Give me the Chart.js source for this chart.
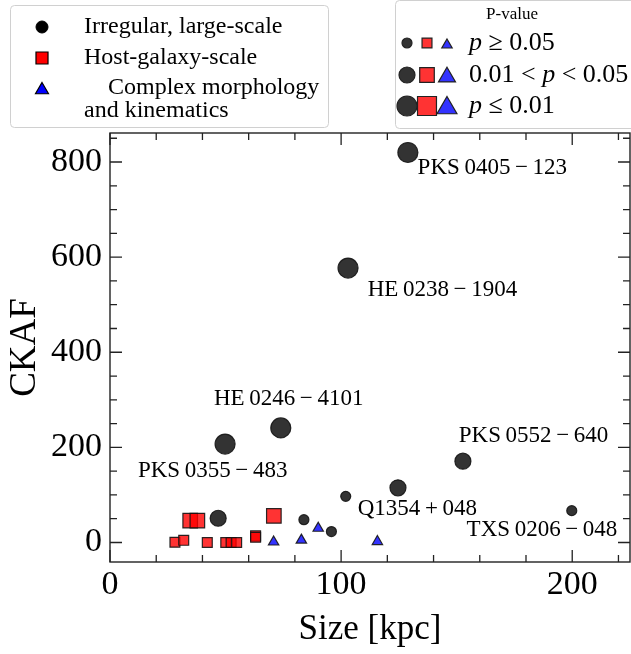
<!DOCTYPE html>
<html>
<head>
<meta charset="utf-8">
<script src="https://cdn.jsdelivr.net/npm/chart.js@4.4.0/dist/chart.umd.min.js"></script>
<style>
  html, body { margin: 0; padding: 0; background: #fff; }
  canvas { display: block; }
</style>
</head>
<body>
<canvas id="ckaf" width="631" height="654" style="width:631px;height:654px"></canvas>
<script>
// significance classes: 'strong' p <= 0.01, 'moderate' 0.01 < p < 0.05, 'weak' p >= 0.05
const irregularSize = [128.9, 103.0, 73.9, 49.8, 152.7, 124.6, 46.8, 199.8, 102.0, 83.9, 95.8];
const irregularCkaf = [820, 577, 241, 207, 171, 115, 51, 67, 97, 48, 23];
const irregularSig  = ['strong', 'strong', 'strong', 'strong', 'moderate', 'moderate', 'moderate',
                       'weak', 'weak', 'weak', 'weak'];

const hostSize = [34.7, 37.8, 70.9, 28.1, 31.9, 42.1, 50.1, 52.4, 54.8, 63.0, 63.0];
const hostCkaf = [46, 46, 56, 0.5, 4.6, 0, 0, 0, 0, 14, 11];
const hostSig  = ['moderate', 'moderate', 'moderate', 'weak', 'weak', 'weak', 'weak',
                  'weak', 'weak', 'weak', 'weak'];

const complexSize = [70.8, 82.8, 90.1, 115.7];
const complexCkaf = [1, 5, 30, 2];
const complexSig  = ['weak', 'weak', 'weak', 'weak'];

const sourceNames = ['PKS\u20090405\u2009\u2212\u2009123', 'HE\u20090238\u2009\u2212\u20091904',
                     'HE\u20090246\u2009\u2212\u20094101', 'PKS\u20090355\u2009\u2212\u2009483',
                     'PKS\u20090552\u2009\u2212\u2009640', 'Q1354\u2009+\u2009048',
                     'TXS\u20090206\u2009\u2212\u2009048'];

const xTickValues = [0, 100, 200];
const yTickValues = [0, 200, 400, 600, 800];
const xMinorValues = [20, 40, 60, 80, 120, 140, 160, 180, 220];
const yMinorValues = [50, 100, 150, 250, 300, 350, 450, 500, 550, 650, 700, 750, 850];

const SERIF = '"Liberation Serif", "Times New Roman", serif';

// marker radius per shape and significance class
const radii = {
  circle:   { weak: 5,   moderate: 8,    strong: 10 },
  rect:     { weak: 7,   moderate: 10.3, strong: 13.4 },
  triangle: { weak: 6,   moderate: 9.8,  strong: 11.5 }
};

const colors = {
  circle:   'rgba(0,0,0,0.8)',
  rect:     'rgba(255,0,0,0.8)',
  triangle: 'rgba(0,0,255,0.8)'
};

const toPoints = (xs, ys) => xs.map((x, i) => ({ x: x, y: ys[i] }));

// text label anchors in data units (left edge, vertical middle)
const labelAnchors = [
  [133.1, 787], [111.5, 530], [45.0, 302], [12.1, 151],
  [150.9, 225], [107.2, 70], [154.3, 26]
];

function drawShape(ctx, shape, x, y, r, fill, stroke, lw) {
  ctx.save();
  ctx.beginPath();
  if (shape === 'circle') {
    ctx.arc(x, y, r, 0, Math.PI * 2);
  } else if (shape === 'rect') {
    const s = r * Math.SQRT1_2;
    ctx.rect(x - s, y - s, 2 * s, 2 * s);
  } else {
    let a = 0;
    ctx.moveTo(x + Math.sin(a) * r, y - Math.cos(a) * r);
    a += 2 * Math.PI / 3;
    ctx.lineTo(x + Math.sin(a) * r, y - Math.cos(a) * r);
    a += 2 * Math.PI / 3;
    ctx.lineTo(x + Math.sin(a) * r, y - Math.cos(a) * r);
    ctx.closePath();
  }
  ctx.fillStyle = fill;
  ctx.fill();
  ctx.lineWidth = lw;
  ctx.strokeStyle = stroke;
  ctx.stroke();
  ctx.restore();
}

function roundBox(ctx, x, y, w, h, rad) {
  ctx.beginPath();
  ctx.moveTo(x + rad, y);
  ctx.lineTo(x + w - rad, y);
  ctx.arcTo(x + w, y, x + w, y + rad, rad);
  ctx.lineTo(x + w, y + h - rad);
  ctx.arcTo(x + w, y + h, x + w - rad, y + h, rad);
  ctx.lineTo(x + rad, y + h);
  ctx.arcTo(x, y + h, x, y + h - rad, rad);
  ctx.lineTo(x, y + rad);
  ctx.arcTo(x, y, x + rad, y, rad);
  ctx.closePath();
}

// draws runs of [text, italic] left to right
function drawRuns(ctx, runs, x, y, size) {
  ctx.textBaseline = 'middle';
  ctx.textAlign = 'left';
  runs.forEach(([txt, italic]) => {
    ctx.font = (italic ? 'italic ' : '') + size + 'px ' + SERIF;
    ctx.fillText(txt, x, y);
    x += ctx.measureText(txt).width;
  });
}

const framePlugin = {
  id: 'frame',
  afterDatasetsDraw(chart) {
    const { ctx, chartArea: a, scales: { x, y } } = chart;
    ctx.save();
    ctx.strokeStyle = '#222';
    ctx.lineWidth = 1.4;
    ctx.strokeRect(a.left, a.top, a.right - a.left, a.bottom - a.top);

    ctx.beginPath();
    const tickX = (v, len) => {
      const px = x.getPixelForValue(v);
      ctx.moveTo(px, a.bottom); ctx.lineTo(px, a.bottom - len);
      ctx.moveTo(px, a.top);    ctx.lineTo(px, a.top + len);
    };
    const tickY = (v, len) => {
      const py = y.getPixelForValue(v);
      ctx.moveTo(a.left, py);  ctx.lineTo(a.left + len, py);
      ctx.moveTo(a.right, py); ctx.lineTo(a.right - len, py);
    };
    xTickValues.forEach(v => tickX(v, 12));
    xMinorValues.forEach(v => tickX(v, 7));
    yTickValues.forEach(v => tickY(v, 12));
    yMinorValues.forEach(v => tickY(v, 7));
    ctx.lineWidth = 1.3;
    ctx.stroke();

    // source names
    ctx.fillStyle = '#000';
    ctx.font = '23px ' + SERIF;
    ctx.textAlign = 'left';
    ctx.textBaseline = 'middle';
    sourceNames.forEach((name, i) => {
      const [lx, ly] = labelAnchors[i];
      ctx.fillText(name, x.getPixelForValue(lx), y.getPixelForValue(ly));
    });
    ctx.restore();
  },
  afterDraw(chart) {
    const ctx = chart.ctx;
    ctx.save();

    // category legend
    ctx.fillStyle = 'rgba(255,255,255,0.8)';
    roundBox(ctx, 10.5, 5.5, 318, 122, 4);
    ctx.fill();
    ctx.strokeStyle = '#d0d0d0';
    ctx.lineWidth = 1;
    ctx.stroke();
    drawShape(ctx, 'circle', 42, 27, 6, '#000', '#000', 1);
    drawShape(ctx, 'rect', 42, 58, 8.5, '#ff0000', '#000', 1.2);
    drawShape(ctx, 'triangle', 42, 90, 7.5, '#0000ff', '#000', 1.2);
    ctx.fillStyle = '#000';
    drawRuns(ctx, [['Irregular, large-scale', false]], 84, 27, 24);
    drawRuns(ctx, [['Host-galaxy-scale', false]], 84, 58, 24);
    drawRuns(ctx, [['Complex morphology', false]], 108, 88, 24);
    drawRuns(ctx, [['and kinematics', false]], 84, 111, 24);

    // significance legend
    ctx.fillStyle = 'rgba(255,255,255,0.8)';
    roundBox(ctx, 395.5, 0.5, 260, 128, 4);
    ctx.fill();
    ctx.strokeStyle = '#d0d0d0';
    ctx.stroke();
    ctx.fillStyle = '#000';
    ctx.font = '17px ' + SERIF;
    ctx.textAlign = 'center';
    ctx.textBaseline = 'middle';
    ctx.fillText('P-value', 512, 15);

    const rows = [
      ['weak', 43, [['p', true], [' \u2265 0.05', false]]],
      ['moderate', 75, [['0.01 < ', false], ['p', true], [' < 0.05', false]]],
      ['strong', 106, [['p', true], [' \u2264 0.01', false]]]
    ];
    rows.forEach(([sig, ry, runs]) => {
      drawShape(ctx, 'circle', 407, ry, radii.circle[sig], colors.circle, '#222', 1.2);
      drawShape(ctx, 'rect', 427, ry, radii.rect[sig], colors.rect, '#222', 1.2);
      drawShape(ctx, 'triangle', 447, ry + 2, radii.triangle[sig], colors.triangle, '#222', 1.2);
      ctx.fillStyle = '#000';
      drawRuns(ctx, runs, 469, ry, 26);
    });
    ctx.restore();
  }
};

function makeSet(label, shape, xs, ys, sig) {
  return {
    label: label,
    data: toPoints(xs, ys),
    pointStyle: shape,
    pointRadius: sig.map(s => radii[shape][s]),
    pointHoverRadius: sig.map(s => radii[shape][s]),
    backgroundColor: colors[shape],
    borderColor: 'rgba(20,20,20,0.9)',
    borderWidth: 1.2
  };
}

new Chart(document.getElementById('ckaf').getContext('2d'), {
  type: 'scatter',
  data: {
    datasets: [
      makeSet('Irregular, large-scale', 'circle', irregularSize, irregularCkaf, irregularSig),
      makeSet('Host-galaxy-scale', 'rect', hostSize, hostCkaf, hostSig),
      makeSet('Complex morphology and kinematics', 'triangle', complexSize, complexCkaf, complexSig)
    ]
  },
  options: {
    responsive: false,
    animation: false,
    layout: { autoPadding: false, padding: { top: 133, right: 1, left: 0, bottom: 0 } },
    plugins: {
      legend: { display: false },
      tooltip: { enabled: false }
    },
    scales: {
      x: {
        type: 'linear',
        min: 0,
        max: 225,
        grid: { display: false, drawTicks: false },
        border: { display: false },
        afterBuildTicks: s => { s.ticks = xTickValues.map(v => ({ value: v })); },
        afterFit: s => { s.height = 92; s.paddingLeft = 0; s.paddingRight = 0; },
        ticks: { color: '#000', padding: 3, maxRotation: 0, font: { family: SERIF, size: 34 } },
        title: {
          display: true,
          text: 'Size [kpc]',
          color: '#000',
          font: { family: SERIF, size: 35, lineHeight: 1 },
          padding: { top: 0, bottom: 7 }
        }
      },
      y: {
        type: 'linear',
        min: -41,
        max: 861,
        grid: { display: false, drawTicks: false },
        border: { display: false },
        afterBuildTicks: s => { s.ticks = yTickValues.map(v => ({ value: v })); },
        afterFit: s => { s.width = 110; s.paddingTop = 0; s.paddingBottom = 0; },
        ticks: { color: '#000', padding: 8, font: { family: SERIF, size: 34 } },
        title: {
          display: true,
          text: 'CKAF',
          color: '#000',
          font: { family: SERIF, size: 37, lineHeight: 1 },
          padding: { top: 7, bottom: 0 }
        }
      }
    }
  },
  plugins: [framePlugin]
});
</script>
</body>
</html>
